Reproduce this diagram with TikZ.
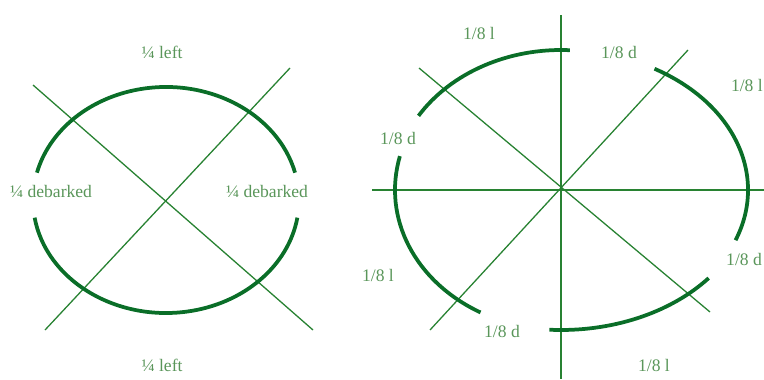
\documentclass[tikz,border=0pt]{standalone}
\usepackage{fontspec}
\setmainfont{Liberation Serif}
\usetikzlibrary{positioning}
\definecolor{logline}{RGB}{40,130,50}
\definecolor{logarc}{RGB}{10,110,40}
\definecolor{logtext}{RGB}{90,150,90}
\tikzset{
    cut/.style={
        draw=logline,
        line width=1.1pt
    },
    shell/.style={
        draw=logarc,
        line width=3.2pt
    },
    lbl/.style={
        text=logtext,
        inner sep=0pt,
        font=\fontsize{15}{18}\selectfont
    }
}

\begin{document}
\begin{tikzpicture}[x=0.03cm, y=0.03cm]
            \useasboundingbox (0,0) rectangle (764,379);

            % Left log: quarters
            \coordinate (la1) at (33,294);
            \coordinate (la2) at (313,49);
            \coordinate (lb1) at (290,311);
            \coordinate (lb2) at (45,49);
            \draw[cut] (la1) -- (la2);
            \draw[cut] (lb1) -- (lb2);

            \draw[shell] (166,179) ++(14:133 and 113)
                arc[start angle=14, end angle=166, x radius=133, y radius=113];
            \draw[shell] (166,179) ++(189:133 and 113)
                arc[start angle=189, end angle=351, x radius=133, y radius=113];

            \node[lbl] (lefttop) at (162,327) {¼ left};
            \node[lbl] (leftbot) at (162,14) {¼ left};
            \node[lbl] (debw) at (51,188) {¼ debarked};
            \node[lbl] (debe) at (267,188) {¼ debarked};

            % Right log: eighths
            \coordinate (rh1) at (372,189);
            \coordinate (rh2) at (764,189);
            \coordinate (rv1) at (561,364);
            \coordinate (rv2) at (561,0);
            \coordinate (rc1) at (419,311);
            \coordinate (rc2) at (710,67);
            \coordinate (rd1) at (688,329);
            \coordinate (rd2) at (430,49);
            \draw[cut] (rh1) -- (rh2);
            \draw[cut] (rv1) -- (rv2);
            \draw[cut] (rc1) -- (rc2);
            \draw[cut] (rd1) -- (rd2);

            \draw[shell] (561,189) ++(87:168 and 140)
                arc[start angle=87, end angle=148, x radius=168, y radius=140];
            \draw[shell] (561,189) ++(166:166 and 140)
                arc[start angle=166, end angle=241, x radius=166, y radius=140];
            \draw[shell] (561,189) ++(266.5:190 and 140)
                arc[start angle=266.5, end angle=321, x radius=190, y radius=140];
            \draw[shell] (561,189) ++(60:187 and 140)
                arc[start angle=60, end angle=-21, x radius=187, y radius=140];

            \node[lbl] (ltop) at (479,346) {1/8 l};
            \node[lbl] (dtop) at (619,327) {1/8 d};
            \node[lbl, anchor=east] (least) at (763,294) {1/8 l};
            \node[lbl] (dwest) at (398,241) {1/8 d};
            \node[lbl] (lwest) at (378,104) {1/8 l};
            \node[lbl] (dbot) at (502,48) {1/8 d};
            \node[lbl, anchor=west] (deast) at (726,120) {1/8 d};
            \node[lbl] (lbot) at (654,14) {1/8 l};
\end{tikzpicture}
\end{document}
